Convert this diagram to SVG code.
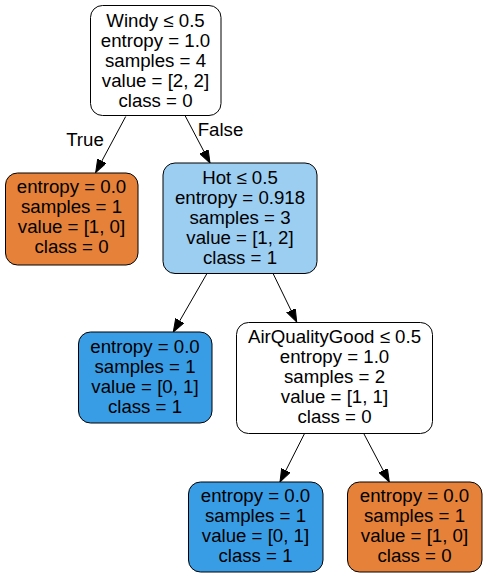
<svg xmlns="http://www.w3.org/2000/svg" width="485" height="577" viewBox="0 0 485 577">
<style>
.n{stroke:#000;stroke-width:1}
.t{font-family:"Liberation Sans",Arial,Helvetica,sans-serif;font-size:18.67px;fill:#000;text-anchor:middle}
.e{stroke:#000;stroke-width:1;fill:none;marker-end:url(#ah)}
</style>
<defs>
<marker id="ah" markerUnits="userSpaceOnUse" markerWidth="14" markerHeight="10" refX="13" refY="4.7" orient="auto">
<path d="M0,0 L13,4.7 L0,9.4 z" fill="#000" stroke="#000" stroke-width="1"/>
</marker>
</defs>
<rect width="485" height="577" fill="#fff"/>
<g id="edges">
<path class="e" d="M125.7,116.5 L95.7,172.5"/>
<path class="e" d="M185,115.5 L210,163"/>
<path class="e" d="M206.7,274 L173.3,332"/>
<path class="e" d="M273.3,274 L296.7,322"/>
<path class="e" d="M304.3,434 L280,482"/>
<path class="e" d="M364,434 L389.3,482"/>
<text class="t" x="85" y="146">True</text>
<text class="t" x="220.5" y="136">False</text>
</g>
<g id="node0">
<rect class="n" x="90.5" y="5.5" width="130.5" height="110" rx="12" fill="#ffffff"/>
<text class="t" x="155.5" y="26.7">Windy ≤ 0.5</text>
<text class="t" x="155.5" y="46.7">entropy = 1.0</text>
<text class="t" x="155.5" y="66.7">samples = 4</text>
<text class="t" x="155.5" y="86.7">value = [2, 2]</text>
<text class="t" x="155.5" y="106.7">class = 0</text>
</g>
<g id="node1">
<rect class="n" x="5.5" y="173" width="132.5" height="92" rx="12" fill="#e58139"/>
<text class="t" x="71.5" y="193.3">entropy = 0.0</text>
<text class="t" x="71.5" y="213.3">samples = 1</text>
<text class="t" x="71.5" y="233.3">value = [1, 0]</text>
<text class="t" x="71.5" y="253.3">class = 0</text>
</g>
<g id="node2">
<rect class="n" x="163" y="163" width="154" height="110.5" rx="12" fill="#9ccef2"/>
<text class="t" x="240" y="183.5">Hot ≤ 0.5</text>
<text class="t" x="240" y="203.5">entropy = 0.918</text>
<text class="t" x="240" y="223.5">samples = 3</text>
<text class="t" x="240" y="243.5">value = [1, 2]</text>
<text class="t" x="240" y="263.5">class = 1</text>
</g>
<g id="node3">
<rect class="n" x="78.5" y="332" width="133.5" height="91" rx="12" fill="#399de5"/>
<text class="t" x="145" y="352.7">entropy = 0.0</text>
<text class="t" x="145" y="372.7">samples = 1</text>
<text class="t" x="145" y="392.7">value = [0, 1]</text>
<text class="t" x="145" y="412.7">class = 1</text>
</g>
<g id="node4">
<rect class="n" x="236.5" y="322.5" width="196" height="111" rx="12" fill="#ffffff"/>
<text class="t" x="334.5" y="342.7">AirQualityGood ≤ 0.5</text>
<text class="t" x="334.5" y="362.7">entropy = 1.0</text>
<text class="t" x="334.5" y="382.7">samples = 2</text>
<text class="t" x="334.5" y="402.7">value = [1, 1]</text>
<text class="t" x="334.5" y="422.7">class = 0</text>
</g>
<g id="node5">
<rect class="n" x="188.5" y="482" width="134.5" height="90" rx="12" fill="#399de5"/>
<text class="t" x="255.5" y="502">entropy = 0.0</text>
<text class="t" x="255.5" y="522">samples = 1</text>
<text class="t" x="255.5" y="542">value = [0, 1]</text>
<text class="t" x="255.5" y="562">class = 1</text>
</g>
<g id="node6">
<rect class="n" x="347.5" y="482" width="134.5" height="90" rx="12" fill="#e58139"/>
<text class="t" x="414.5" y="502">entropy = 0.0</text>
<text class="t" x="414.5" y="522">samples = 1</text>
<text class="t" x="414.5" y="542">value = [1, 0]</text>
<text class="t" x="414.5" y="562">class = 0</text>
</g>
</svg>
